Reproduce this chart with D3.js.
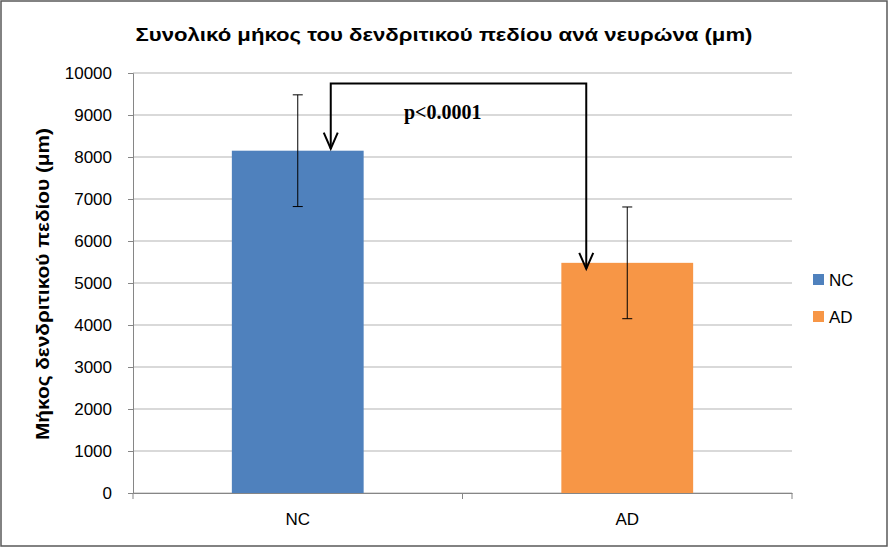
<!DOCTYPE html>
<html><head><meta charset="utf-8">
<script src="https://cdn.jsdelivr.net/npm/d3@7"></script>
<style>body{margin:0;background:#fff}</style></head>
<body><svg id="c" width="888" height="547"></svg>
<script>
const categories=["NC","AD"];
const values=[8150,5480];
const errors=[1330,1330];
const colors=["#4f81bd","#f79646"];
const yTicks=[0,1000,2000,3000,4000,5000,6000,7000,8000,9000,10000];
const title="Συνολικό μήκος του δενδριτικού πεδίου ανά νευρώνα (μm)";
const yTitle="Μήκος δενδριτικού πεδίου (μm)";
const pText="p<0.0001";

const svg=d3.select("#c");
const font="'Liberation Sans', Arial, sans-serif";
svg.append("rect").attr("x",1).attr("y",1).attr("width",886).attr("height",545).attr("fill","#fff").attr("stroke","#595959").attr("stroke-width",1.5);
const L=133,R=792,T=73,B=493;
const x=d3.scaleBand().domain(categories).range([L,R]).paddingInner(0.6).paddingOuter(0.3);
const y=d3.scaleLinear().domain([0,10000]).range([B,T]);
const g=svg.append("g");
g.selectAll(".grid").data(yTicks).join("line").attr("x1",L).attr("x2",R).attr("y1",d=>y(d)).attr("y2",d=>y(d)).attr("stroke","#b3b3b3").attr("stroke-width",1);
const ya=svg.append("g").attr("transform",`translate(${L},0)`).call(d3.axisLeft(y).tickValues(yTicks).tickSize(5).tickPadding(16).tickFormat(d3.format("d")));
ya.selectAll("text").attr("font-family",font).attr("font-size",17).attr("fill","#000");
ya.selectAll("line,path").attr("stroke","#868686");
const xa=svg.append("g").attr("transform",`translate(0,${B})`).call(d3.axisBottom(x).tickSize(0).tickPadding(20));
xa.selectAll("text").attr("font-family",font).attr("font-size",17).attr("fill","#000");
xa.selectAll("path").attr("stroke","#868686");
[L,(L+R)/2,R].forEach(v=>svg.append("line").attr("x1",v).attr("x2",v).attr("y1",B).attr("y2",B+6).attr("stroke","#868686"));
svg.selectAll(".bar").data(categories).join("rect").attr("x",d=>x(d)).attr("width",x.bandwidth()).attr("y",(d,i)=>y(values[i])).attr("height",(d,i)=>B-y(values[i])).attr("fill",(d,i)=>colors[i]);
categories.forEach((c,i)=>{
 const cx=x(c)+x.bandwidth()/2, t=y(values[i]+errors[i]), b=y(values[i]-errors[i]);
 svg.append("line").attr("x1",cx).attr("x2",cx).attr("y1",t).attr("y2",b).attr("stroke","#000");
 [t,b].forEach(v=>svg.append("line").attr("x1",cx-5).attr("x2",cx+5).attr("y1",v).attr("y2",v).attr("stroke","#000"));
});
const ax1=x("NC")+x.bandwidth()/2+33, ax2=x("AD")+x.bandwidth()/2-41, ay=y(9750);
svg.append("path").attr("d",`M${ax1},${y(values[0])-2}V${ay}H${ax2}V${y(values[1])+6}`).attr("fill","none").attr("stroke","#000").attr("stroke-width",2);
[[ax1,y(values[0])-2],[ax2,y(values[1])+6]].forEach(([px,py])=>svg.append("path").attr("d",`M${px-7},${py-16}L${px},${py}L${px+7},${py-16}`).attr("fill","none").attr("stroke","#000").attr("stroke-width",2));
svg.append("text").attr("x",404).attr("y",119).attr("font-family","'Liberation Serif','Times New Roman',serif").attr("font-weight","bold").attr("font-size",20).text(pText);
svg.append("text").attr("x",444).attr("y",41).attr("text-anchor","middle").attr("font-family",font).attr("font-weight","bold").attr("font-size",19).attr("textLength",617).attr("lengthAdjust","spacingAndGlyphs").text(title);
svg.append("text").attr("transform","translate(49,284) rotate(-90)").attr("text-anchor","middle").attr("font-family",font).attr("font-weight","bold").attr("font-size",18).attr("textLength",312).attr("lengthAdjust","spacingAndGlyphs").text(yTitle);
categories.forEach((c,i)=>{
 svg.append("rect").attr("x",813).attr("y",274+i*37).attr("width",11).attr("height",11).attr("fill",colors[i]);
 svg.append("text").attr("x",829).attr("y",286+i*37).attr("font-family",font).attr("font-size",17).text(c);
});
</script></body></html>
